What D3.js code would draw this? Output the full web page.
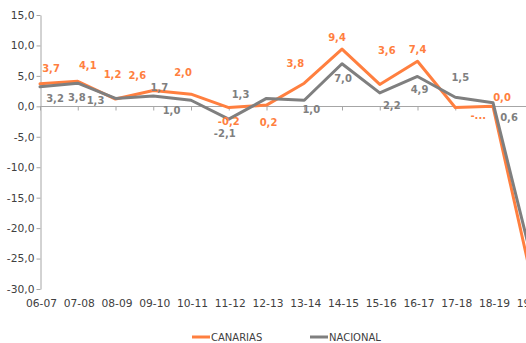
<!DOCTYPE html>
<html>
<head>
<meta charset="utf-8">
<script src="https://cdn.jsdelivr.net/npm/d3@7"></script>
<style>
  html, body { margin: 0; padding: 0; background: #fff; overflow: hidden; }
  svg { display: block; font-family: "DejaVu Sans", Verdana, sans-serif; }
</style>
</head>
<body>
<svg id="chart" width="526" height="343"></svg>
<script>
// ---- data ----
const categories = ["06-07","07-08","08-09","09-10","10-11","11-12","12-13","13-14","14-15","15-16","16-17","17-18","18-19","19-20"];
const canarias = [3.7, 4.1, 1.2, 2.6, 2.0, -0.2, 0.2, 3.8, 9.4, 3.6, 7.4, -0.2, 0.0, -27.7];
const nacional = [3.2, 3.8, 1.3, 1.7, 1.0, -2.1, 1.3, 1.0, 7.0, 2.2, 4.9, 1.5, 0.6, -24.4];
const canariasLabels = ["3,7","4,1","1,2","2,6","2,0","-0,2","0,2","3,8","9,4","3,6","7,4","-...","0,0","-27,7"];
const nacionalLabels = ["3,2","3,8","1,3","1,7","1,0","-2,1","1,3","1,0","7,0","2,2","4,9","1,5","0,6","-24,4"];
const yTicks = [15, 10, 5, 0, -5, -10, -15, -20, -25, -30];
const seriesNames = ["CANARIAS", "NACIONAL"];

// ---- layout (label offsets relative to their point, px) ----
const canariasLabelOffsets = [[11,-15],[10,-16],[-3,-25],[-16,-15],[-8,-22],[0,14],[2,17],[-9,-20],[-5,-12],[7,-34],[0,-12],[23,8],[9,-9],[20,0]];
const nacionalLabelOffsets = [[15,12],[-1,14],[-20,2.5],[6,-8],[-19.5,10],[-4,14],[-26,-4],[7,9.5],[1,15],[12,13],[2,13.5],[5,-19.5],[16,15],[20,0]];

const W = 526, H = 343;
const orange = "#FF7F3F";
const gray = "#7F7F7F";
const textColor = "#404040";

const svg = d3.select("#chart");
svg.append("rect").attr("width", W).attr("height", H).attr("fill", "#fff");

const x = d3.scalePoint().domain(categories).range([40, 40 + 13 * 37.75]);
const y = d3.scaleLinear().domain([-30, 15]).range([289, 15]);
const fmt = d => d.toFixed(1).replace(".", ",");

// y axis
const yAxis = svg.append("g")
  .attr("transform", "translate(40.5,0)")
  .call(d3.axisLeft(y).tickValues(yTicks).tickSize(4).tickSizeOuter(0).tickFormat(fmt));
yAxis.select(".domain").attr("stroke", "#A6A6A6");
yAxis.selectAll(".tick line").attr("stroke", "#A6A6A6");
yAxis.selectAll(".tick text").attr("fill", textColor).attr("font-size", "10.7px")
  .attr("x", -6).attr("font-family", "DejaVu Sans, Verdana, sans-serif");

// x axis (line at zero, labels at bottom)
const xAxis = svg.append("g")
  .attr("transform", `translate(0,${Math.round(y(0)) + 0.5})`)
  .call(d3.axisBottom(x).tickSize(4).tickSizeOuter(0).tickFormat(""));
xAxis.select(".domain").attr("stroke", "#A6A6A6").attr("stroke-width", 1.2)
  .attr("d", `M40,0H${W}`);
xAxis.selectAll(".tick line").attr("stroke", "#A6A6A6");

svg.append("g").selectAll("text").data(categories).join("text")
  .attr("x", d => x(d) + 1.5)
  .attr("y", 303)
  .attr("text-anchor", "middle")
  .attr("dominant-baseline", "central")
  .attr("font-size", "10.7px")
  .attr("fill", textColor)
  .text(d => d);

// lines
const line = d3.line().x((d, i) => x(categories[i])).y(d => y(d));
svg.append("path").datum(canarias).attr("d", line)
  .attr("fill", "none").attr("stroke", orange).attr("stroke-width", 3)
  .attr("stroke-linejoin", "round").attr("stroke-linecap", "round");
svg.append("path").datum(nacional).attr("d", line)
  .attr("fill", "none").attr("stroke", gray).attr("stroke-width", 3)
  .attr("stroke-linejoin", "round").attr("stroke-linecap", "round");

// data labels (only those whose point lies inside the visible picture)
function labels(values, texts, offsets, color) {
  const items = values.map((v, i) => ({v, i})).filter(d => x(categories[d.i]) < W);
  svg.append("g").selectAll("text").data(items).join("text")
    .attr("x", d => x(categories[d.i]) + offsets[d.i][0])
    .attr("y", d => y(d.v) + offsets[d.i][1])
    .attr("text-anchor", "middle")
    .attr("dominant-baseline", "central")
    .attr("font-size", "10px")
    .attr("font-weight", "bold")
    .attr("fill", color)
    .text(d => texts[d.i]);
}
labels(canarias, canariasLabels, canariasLabelOffsets, orange);
labels(nacional, nacionalLabels, nacionalLabelOffsets, gray);

// legend
const legend = svg.append("g");
const legendItems = [{name: seriesNames[0], color: orange, x0: 192}, {name: seriesNames[1], color: gray, x0: 310}];
legendItems.forEach(it => {
  legend.append("line").attr("x1", it.x0).attr("x2", it.x0 + 18).attr("y1", 337).attr("y2", 337)
    .attr("stroke", it.color).attr("stroke-width", 3);
  legend.append("text").attr("x", it.x0 + 19).attr("y", 337)
    .attr("dominant-baseline", "central").attr("font-size", "10px").attr("fill", textColor)
    .text(it.name);
});
</script>
</body>
</html>
